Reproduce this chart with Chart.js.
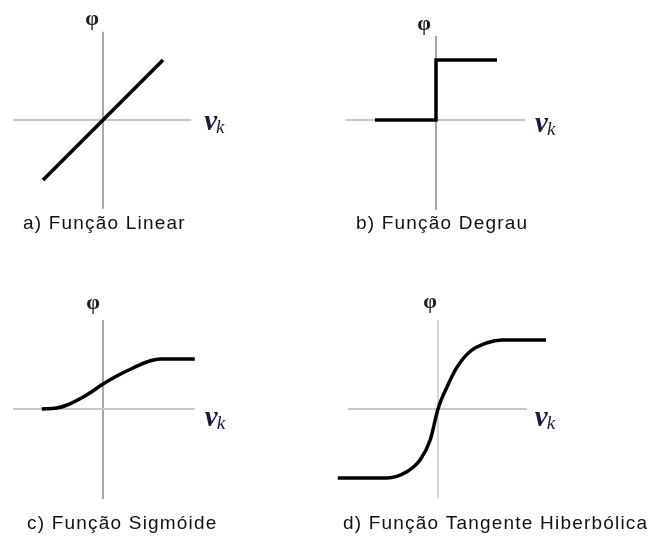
<!DOCTYPE html>
<html>
<head>
<meta charset="utf-8">
<script src="https://cdn.jsdelivr.net/npm/chart.js@4.4.0/dist/chart.umd.min.js"></script>
<style>
  html, body { margin: 0; padding: 0; background: #fff; }
  #wrap { position: relative; width: 655px; height: 536px; }
  #wrap canvas { position: absolute; }
</style>
</head>
<body>
<div id="wrap">
  <canvas id="chart_a"></canvas>
  <canvas id="chart_b"></canvas>
  <canvas id="chart_c"></canvas>
  <canvas id="chart_d"></canvas>
</div>
<script>
// curves (x = v_k, y = phi)
var linearX = [-1, 1];
var linearY = [-1, 1];
var stepX = [-1, 0, 0, 1];
var stepY = [0, 0, 1, 1];
var sigmoidX = [-1.02, -0.77, -0.6, -0.33, -0.17, 0, 0.23, 0.5, 0.73, 0.95, 1.53];
var sigmoidY = [0, 0.02, 0.08, 0.24, 0.36, 0.5, 0.66, 0.82, 0.94, 1.0, 1.0];
var tanhX = [-1.67, -0.85, -0.52, -0.3, -0.13, 0, 0.15, 0.32, 0.53, 0.82, 1.07, 1.8];
var tanhY = [-1, -1, -0.91, -0.74, -0.45, 0, 0.32, 0.61, 0.83, 0.96, 1, 1];

// extent of the drawn axes
var axisXa = [-1.5, 1.47], axisYa = [-1.48, 1.47];
var axisXb = [-1.49, 1.46], axisYb = [-1.5, 1.4];
var axisXc = [-1.5, 1.53], axisYc = [-1.8, 1.78];
var axisXd = [-1.5, 1.48], axisYd = [-1.29, 1.29];

var captions = ['a) Função Linear', 'b) Função Degrau', 'c) Função Sigmóide', 'd) Função Tangente Hiberbólica'];
var yLabel = 'φ';
var xLabel = 'v';
var xLabelSub = 'k';

function pts(xs, ys) {
    return xs.map(function(x, i) { return { x: x, y: ys[i] }; });
}

// panel placement (pixels) and styling
var panels = [
    { id: 'chart_a', left: 0, top: 0, w: 327, h: 268, ox: 103, oy: 120, ux: 60, uy: 60,
      smooth: false, vAxisColor: '#8a8a8a', capX: 23, capY: 229, phiDx: -11, phiGap: 12, vkGap: 13, vkDy: 10 },
    { id: 'chart_b', left: 327, top: 0, w: 328, h: 268, ox: 109, oy: 120, ux: 61, uy: 60,
      smooth: false, vAxisColor: '#8a8a8a', capX: 356, capY: 229, phiDx: -12, phiGap: 12, vkGap: 10, vkDy: 12 },
    { id: 'chart_c', left: 0, top: 268, w: 327, h: 268, ox: 103, oy: 141, ux: 60, uy: 50,
      smooth: true, vAxisColor: '#8a8a8a', capX: 27, capY: 529, phiDx: -10, phiGap: 17, vkGap: 10, vkDy: 17 },
    { id: 'chart_d', left: 327, top: 268, w: 328, h: 268, ox: 111, oy: 141, ux: 60, uy: 69,
      smooth: true, vAxisColor: '#c8c8c8', capX: 343, capY: 529, phiDx: -8, phiGap: 18, vkGap: 8, vkDy: 17 }
];

function labelsPlugin(p, axisX, axisY, caption) {
    return {
        id: 'panelLabels',
        afterDraw: function(chart) {
            var ctx = chart.ctx;
            var sx = chart.scales.x, sy = chart.scales.y;
            ctx.save();
            // phi above the vertical axis
            ctx.fillStyle = '#1e1e1e';
            ctx.font = 'bold 22px "Liberation Serif"';
            ctx.textAlign = 'center';
            ctx.textBaseline = 'middle';
            ctx.fillText(yLabel, sx.getPixelForValue(0) + p.phiDx, sy.getPixelForValue(axisY[1]) - p.phiGap);
            // v_k right of the horizontal axis
            var vx = sx.getPixelForValue(axisX[1]) + p.vkGap;
            var vy = sy.getPixelForValue(0) + p.vkDy;
            ctx.fillStyle = '#1a1a44';
            ctx.textAlign = 'left';
            ctx.textBaseline = 'alphabetic';
            ctx.font = 'bold italic 29px "Liberation Serif"';
            ctx.fillText(xLabel, vx, vy);
            var vw = ctx.measureText(xLabel).width;
            ctx.font = 'italic 19px "Liberation Serif"';
            ctx.fillText(xLabelSub, vx + vw - 1, vy + 3);
            // caption
            ctx.fillStyle = '#111';
            ctx.font = '19px "Liberation Sans"';
            ctx.letterSpacing = '1.2px';
            ctx.fillText(caption, p.capX - p.left, p.capY - p.top);
            ctx.restore();
        }
    };
}

function makeChart(p, curveX, curveY, axisX, axisY, caption) {
    var cv = document.getElementById(p.id);
    cv.width = p.w;
    cv.height = p.h;
    cv.style.left = p.left + 'px';
    cv.style.top = p.top + 'px';
    return new Chart(cv, {
        type: 'scatter',
        data: {
            datasets: [
                {
                    data: pts(curveX, curveY),
                    showLine: true,
                    borderColor: '#000',
                    borderWidth: 3.5,
                    pointRadius: 0,
                    tension: 0,
                    cubicInterpolationMode: p.smooth ? 'monotone' : 'default',
                    borderJoinStyle: 'miter',
                    order: 0
                },
                {
                    data: pts(axisX, [0, 0]),
                    showLine: true,
                    borderColor: '#c8c8c8',
                    borderWidth: 2,
                    pointRadius: 0,
                    order: 1
                },
                {
                    data: pts([0, 0], axisY),
                    showLine: true,
                    borderColor: p.vAxisColor,
                    borderWidth: 1.5,
                    pointRadius: 0,
                    order: 2
                }
            ]
        },
        options: {
            responsive: false,
            animation: false,
            events: [],
            layout: { padding: 0 },
            plugins: {
                legend: { display: false },
                tooltip: { enabled: false }
            },
            scales: {
                x: { type: 'linear', display: false, min: -p.ox / p.ux, max: (p.w - p.ox) / p.ux },
                y: { type: 'linear', display: false, min: -(p.h - p.oy) / p.uy, max: p.oy / p.uy }
            }
        },
        plugins: [labelsPlugin(p, axisX, axisY, caption)]
    });
}

var chart_a = makeChart(panels[0], linearX, linearY, axisXa, axisYa, captions[0]);
var chart_b = makeChart(panels[1], stepX, stepY, axisXb, axisYb, captions[1]);
var chart_c = makeChart(panels[2], sigmoidX, sigmoidY, axisXc, axisYc, captions[2]);
var chart_d = makeChart(panels[3], tanhX, tanhY, axisXd, axisYd, captions[3]);
</script>
</body>
</html>
